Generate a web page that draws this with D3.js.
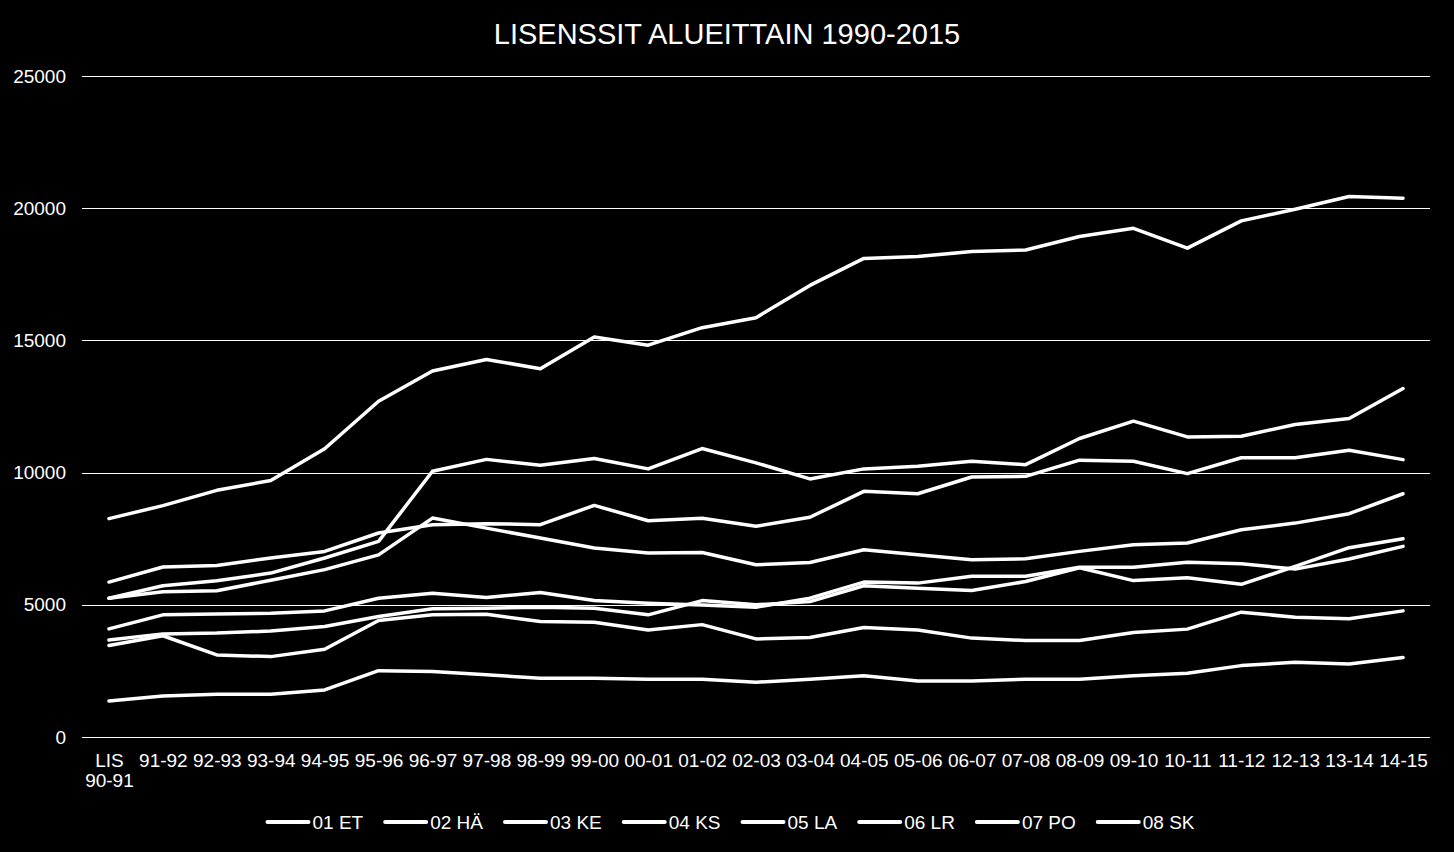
<!DOCTYPE html>
<html>
<head>
<meta charset="utf-8">
<script src="https://cdn.jsdelivr.net/npm/d3@7"></script>
<style>
  html, body { margin: 0; padding: 0; background: #000; }
  svg { display: block; }
  text { font-family: "Liberation Sans", Arial, sans-serif; fill: #fff; }
</style>
</head>
<body>
<svg id="chart" width="1454" height="852"></svg>
<script>
const title = "LISENSSIT ALUEITTAIN 1990-2015";
const categories = ["LIS 90-91","91-92","92-93","93-94","94-95","95-96","96-97","97-98","98-99","99-00","00-01","01-02","02-03","03-04","04-05","05-06","06-07","07-08","08-09","09-10","10-11","11-12","12-13","13-14","14-15"];
const seriesNames = ["01 ET","02 HÄ","03 KE","04 KS","05 LA","06 LR","07 PO","08 SK"];
const yTicks = [0, 5000, 10000, 15000, 20000, 25000];

const s01 = [8260, 8750, 9330, 9700, 10900, 12700, 13840, 14280, 13930, 15125, 14820, 15480, 15860, 17080, 18100, 18170, 18360, 18420, 18930, 19240, 18490, 19520, 19960, 20440, 20380];
const s02 = [5250, 5720, 5910, 6200, 6770, 7400, 10050, 10500, 10280, 10530, 10140, 10910, 10370, 9760, 10140, 10240, 10430, 10300, 11290, 11945, 11350, 11375, 11820, 12045, 13180];
const s03 = [5860, 6430, 6490, 6770, 7020, 7715, 8030, 8070, 8030, 8760, 8180, 8270, 7970, 8310, 9290, 9200, 9835, 9860, 10470, 10430, 9960, 10560, 10560, 10845, 10490];
const s04 = [5250, 5490, 5530, 5930, 6330, 6890, 8280, 7900, 7525, 7150, 6960, 6980, 6515, 6600, 7085, 6895, 6705, 6740, 7020, 7270, 7340, 7840, 8090, 8445, 9200];
const s05 = [4090, 4620, 4650, 4685, 4770, 5250, 5440, 5280, 5465, 5160, 5060, 4990, 4910, 5250, 5860, 5820, 6080, 6080, 6420, 6420, 6610, 6550, 6350, 6730, 7210];
const s06 = [3670, 3900, 3930, 4010, 4180, 4560, 4850, 4870, 4910, 4870, 4620, 5160, 5000, 5120, 5720, 5630, 5540, 5880, 6400, 5915, 6020, 5775, 6450, 7160, 7495];
const s07 = [3460, 3830, 3105, 3040, 3320, 4405, 4620, 4640, 4370, 4340, 4050, 4250, 3710, 3760, 4140, 4050, 3740, 3650, 3650, 3950, 4080, 4720, 4530, 4470, 4770];
const s08 = [1364, 1553, 1617, 1617, 1780, 2510, 2475, 2350, 2220, 2220, 2185, 2185, 2070, 2185, 2320, 2120, 2120, 2185, 2185, 2320, 2410, 2700, 2830, 2765, 3005];

const series = [s01, s02, s03, s04, s05, s06, s07, s08];

const svg = d3.select("#chart");
svg.append("rect").attr("width", 1454).attr("height", 852).attr("fill", "#000");

const plotLeft = 82, plotRight = 1430, plotTop = 76, plotBottom = 737;

const x = d3.scalePoint().domain(categories).range([plotLeft, plotRight]).padding(0.5);
const y = d3.scaleLinear().domain([0, 25000]).range([plotBottom, plotTop]);

// title
svg.append("text")
  .attr("x", 727).attr("y", 44)
  .attr("text-anchor", "middle")
  .style("font-size", "29px")
  .text(title);

// y axis + gridlines
const yAxis = svg.append("g")
  .attr("transform", `translate(${plotLeft},0)`)
  .call(d3.axisLeft(y).tickValues(yTicks).tickFormat(d3.format("d")).tickSize(-(plotRight - plotLeft)).tickPadding(16));
yAxis.select(".domain").remove();
yAxis.selectAll(".tick line").attr("stroke", "#fff").attr("stroke-width", 1).attr("shape-rendering", "crispEdges");
yAxis.selectAll(".tick text").style("font-size", "19px").attr("fill", "#fff").attr("font-family", "Liberation Sans, Arial, sans-serif");

// x axis
const xAxis = svg.append("g")
  .attr("transform", `translate(0,${plotBottom})`)
  .call(d3.axisBottom(x).tickSize(0).tickPadding(0));
xAxis.select(".domain").remove();
xAxis.selectAll(".tick text")
  .style("font-size", "19px")
  .attr("fill", "#fff")
  .attr("font-family", "Liberation Sans, Arial, sans-serif")
  .attr("y", 30).attr("dy", 0)
  .each(function(d) {
    const parts = d.split(" ");
    const t = d3.select(this);
    t.text(null);
    parts.forEach((p, i) => {
      t.append("tspan").attr("x", 0).attr("dy", i === 0 ? 0 : 20).text(p);
    });
  });

// lines
const line = d3.line()
  .x((d, i) => x(categories[i]))
  .y(d => y(d));

svg.append("g").selectAll("path")
  .data(series)
  .join("path")
  .attr("d", d => line(d))
  .attr("fill", "none")
  .attr("stroke", "#fff")
  .attr("stroke-width", 3.5)
  .attr("stroke-linejoin", "round")
  .attr("stroke-linecap", "round");

// legend
const legend = svg.append("g");
const legendY = 822;
const swatch = 41, gapText = 4, gapItem = 22;
const items = legend.selectAll("g").data(seriesNames).join("g");
items.append("line")
  .attr("x1", 0).attr("x2", swatch)
  .attr("y1", 0).attr("y2", 0)
  .attr("stroke", "#fff").attr("stroke-width", 4).attr("stroke-linecap", "round");
items.append("text")
  .attr("x", swatch + gapText).attr("y", 0).attr("dy", "0.36em")
  .style("font-size", "19px")
  .text(d => d);
let cx = 0;
const offsets = [];
items.each(function() {
  const w = d3.select(this).select("text").node().getComputedTextLength();
  offsets.push(cx);
  cx += swatch + gapText + w + gapItem;
});
const total = cx - gapItem;
const startX = 731 - total / 2;
items.attr("transform", (d, i) => `translate(${startX + offsets[i]},${legendY})`);
</script>
</body>
</html>
